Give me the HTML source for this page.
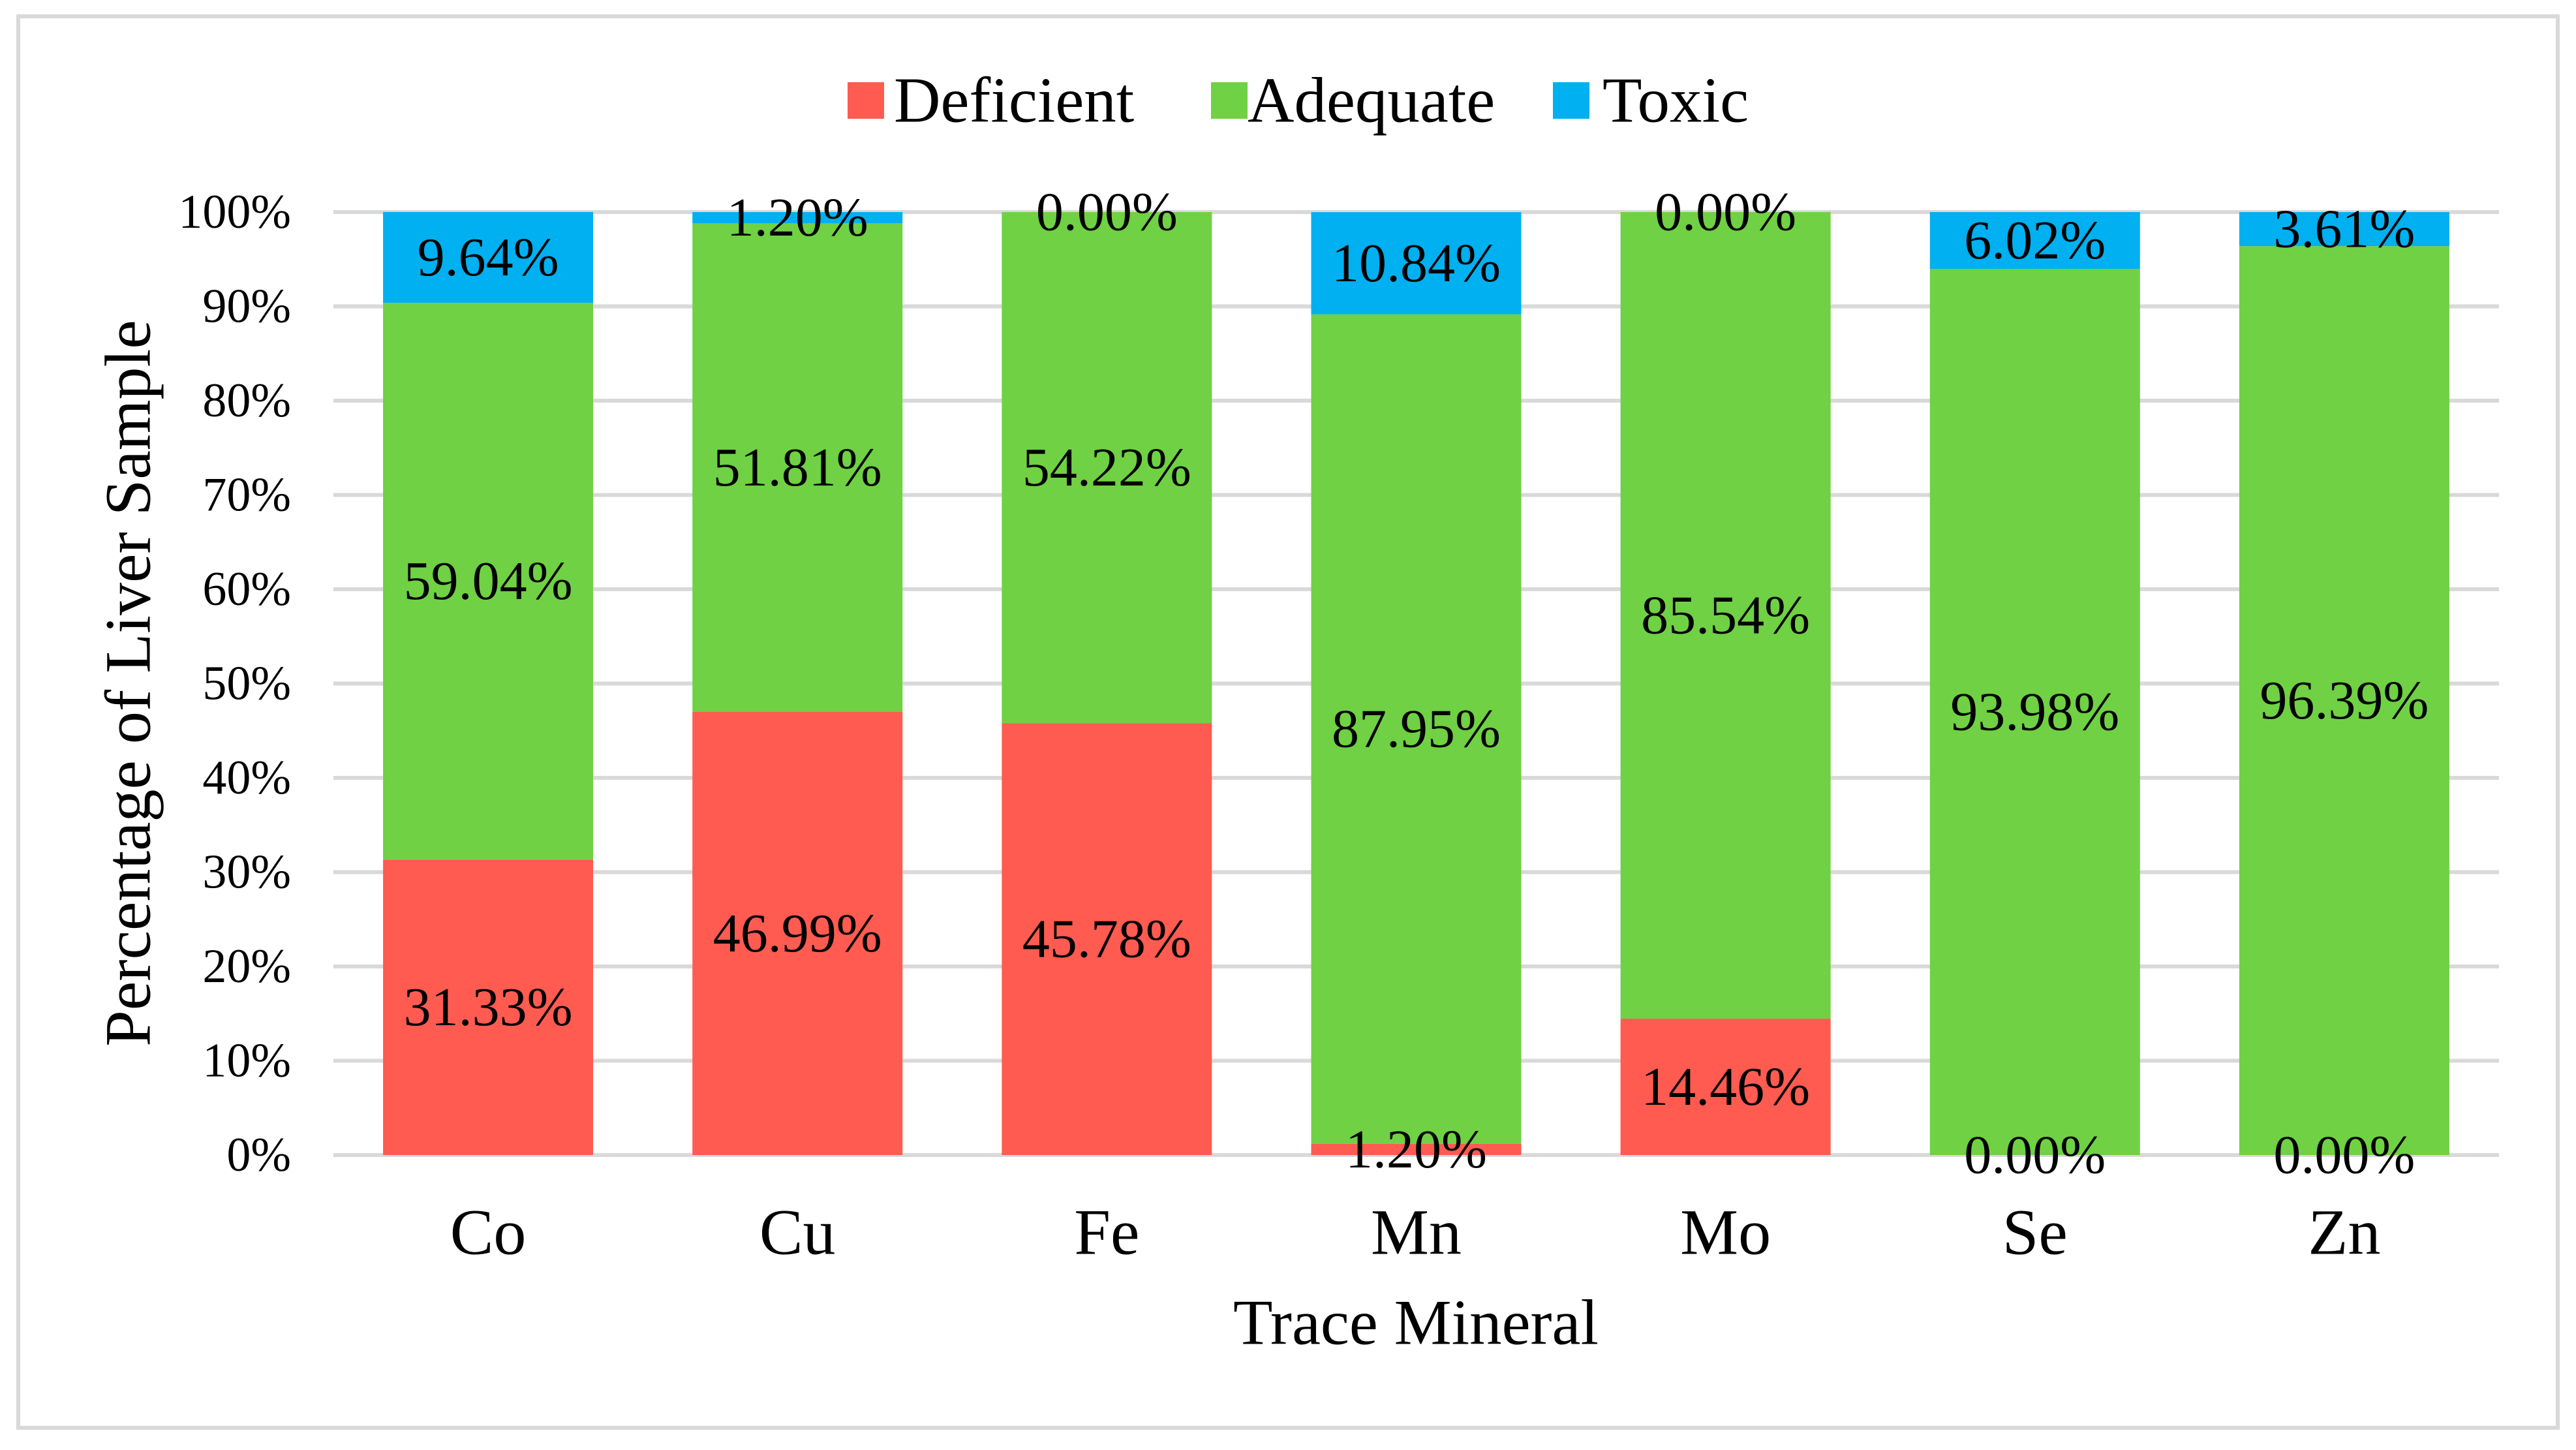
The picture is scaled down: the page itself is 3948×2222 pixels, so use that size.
<!DOCTYPE html>
<html><head><meta charset="utf-8"><style>
html,body{margin:0;padding:0;background:#fff;}
svg{display:block;font-family:"Liberation Serif",serif;}
</style></head><body>
<svg id="chart" width="3948" height="2222" viewBox="0 0 3948 2222" xmlns="http://www.w3.org/2000/svg">
<rect x="28" y="25" width="3892" height="2163" fill="#fff" stroke="#D9D9D9" stroke-width="6"/>
<g id="grid"></g>
<g id="bars"></g>
<g id="labels"></g>
<g>
<rect x="1299" y="126" width="56" height="56" fill="#FF5B51"/>
<text x="1370" y="154" font-size="99" dominant-baseline="central">Deficient</text>
<rect x="1856" y="126" width="56" height="56" fill="#6FD143"/>
<text x="1912" y="154" font-size="99" dominant-baseline="central">Adequate</text>
<rect x="2380" y="126" width="56" height="56" fill="#00B0F0"/>
<text x="2456" y="154" font-size="99" dominant-baseline="central">Toxic</text>
</g>
<text transform="translate(196,1047) rotate(-90)" font-size="100" text-anchor="middle" dominant-baseline="central">Percentage of Liver Sample</text>
<text x="2170" y="2027" font-size="99" text-anchor="middle" dominant-baseline="central">Trace Mineral</text>
</svg>
<script>
const categories = ["Co","Cu","Fe","Mn","Mo","Se","Zn"];
const deficient = [31.33,46.99,45.78,1.20,14.46,0.00,0.00];
const adequate = [59.04,51.81,54.22,87.95,85.54,93.98,96.39];
const toxic = [9.64,1.20,0.00,10.84,0.00,6.02,3.61];
const yTicks = [0,10,20,30,40,50,60,70,80,90,100];

const NS="http://www.w3.org/2000/svg";
const X0=511, X1=3830, Y0=1770, Y1=325, BW=322;
const band=(X1-X0)/categories.length;
function xc(i){return X0+band*(i+0.5);}
function y(v){return Y0-(Y0-Y1)*v/100;}
function mk(tag,attrs,parent){const e=document.createElementNS(NS,tag);for(const k in attrs)e.setAttribute(k,attrs[k]);parent.appendChild(e);return e;}
const grid=document.getElementById('grid'),bars=document.getElementById('bars'),labels=document.getElementById('labels');
yTicks.forEach(t=>{
  const l=mk('line',{x1:X0,x2:X1,y1:y(t),y2:y(t),stroke:'#D9D9D9','stroke-width':6},grid);
  
  
  const tx=mk('text',{x:446,y:y(t),'font-size':74,'text-anchor':'end','dominant-baseline':'central'},grid);
  tx.textContent=t+'%';
  
  
});
const series=[["deficient",deficient,"#FF5B51"],["adequate",adequate,"#6FD143"],["toxic",toxic,"#00B0F0"]];
categories.forEach((c,i)=>{
  let base=0;
  series.forEach(([name,vals,col])=>{
    const v=vals[i];
    const r=mk('rect',{x:xc(i)-BW/2,y:y(base+v),width:BW,height:Math.max(0,y(base)-y(base+v)),fill:col},bars);
    
    
    const t=mk('text',{x:xc(i),y:y(base+v/2),'font-size':84,'text-anchor':'middle','dominant-baseline':'central'},labels);
    t.textContent=v.toFixed(2)+'%';
    
    
    base+=v;
  });
  const cl=mk('text',{x:xc(i),y:1888,'font-size':100,'text-anchor':'middle','dominant-baseline':'central'},labels);
  cl.textContent=c;
  
  
});
</script>
</body></html>
